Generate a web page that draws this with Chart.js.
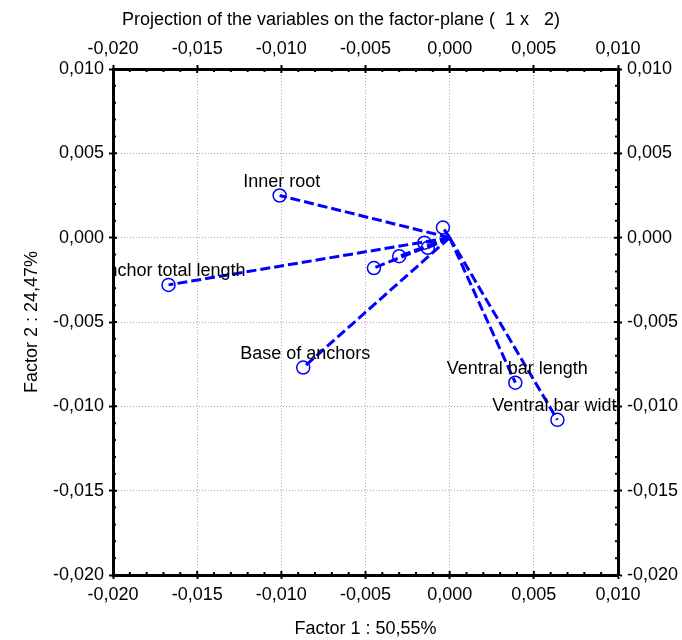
<!DOCTYPE html>
<html>
<head>
<meta charset="utf-8">
<title>Projection of the variables on the factor-plane</title>
<script src="https://cdn.jsdelivr.net/npm/chart.js@4.4.0/dist/chart.umd.min.js"></script>
<style>
  body { margin: 0; background: #fff; }
  canvas { display: block; }
</style>
</head>
<body>
<canvas id="grafica" width="682" height="640"></canvas>
<script>
// variables and their coordinates on factor 1 / factor 2
const variables = ['Inner root', 'Anchor total length', 'Base of anchors', 'Ventral bar length', 'Ventral bar width', '', '', '', '', ''];
const factor1 = [-0.0101, -0.0167, -0.0087, 0.0039, 0.0064, -0.0004, -0.0045, -0.0030, -0.0015, -0.0013];
const factor2 = [0.0025, -0.0028, -0.0077, -0.0086, -0.0108, 0.0006, -0.0018, -0.0011, -0.0003, -0.0006];

const axisMin = -0.020;
const axisMax = 0.010;
const axisStep = 0.005;

const fuente = 'Liberation Sans, Arial, sans-serif';
const azul = '#0000ff';

function fmt(v) {
    if (Math.abs(v) < 1e-9) v = 0;
    return v.toFixed(3).replace('.', ',');
}

const puntos = factor1.map((x, i) => ({ x: x, y: factor2[i] }));

// one dashed vector from the origin to every variable
const vectores = puntos.map((p) => ({
    type: 'line',
    data: [{ x: 0, y: 0 }, p],
    showLine: true,
    borderColor: azul,
    borderWidth: 3,
    borderDash: [10, 4],
    pointRadius: 0,
    fill: false
}));

const circulos = {
    type: 'scatter',
    data: puntos,
    pointStyle: 'circle',
    pointRadius: 6.5,
    pointBorderWidth: 1.5,
    pointBorderColor: azul,
    pointBackgroundColor: 'rgba(0,0,0,0)'
};

// small inward tick marks every 0.001
const minorTicks = {
    id: 'minorTicks',
    afterDraw(chart) {
        const ctx = chart.ctx;
        const a = chart.chartArea;
        const sx = chart.scales.x;
        const sy = chart.scales.y;
        ctx.save();
        ctx.strokeStyle = '#000';
        ctx.lineWidth = 2;
        ctx.beginPath();
        for (let i = -20; i <= 10; i++) {
            const v = i / 1000;
            const len = (i % 5 === 0) ? 4 : 3;
            const px = sx.getPixelForValue(v);
            const py = sy.getPixelForValue(v);
            ctx.moveTo(px, a.bottom); ctx.lineTo(px, a.bottom - len);
            ctx.moveTo(px, a.top); ctx.lineTo(px, a.top + len);
            ctx.moveTo(a.left, py); ctx.lineTo(a.left + len, py);
            ctx.moveTo(a.right, py); ctx.lineTo(a.right - len, py);
        }
        ctx.stroke();
        ctx.restore();
    }
};

// variable names above their circles
const etiquetas = {
    id: 'etiquetas',
    afterDatasetsDraw(chart) {
        const ctx = chart.ctx;
        const a = chart.chartArea;
        const sx = chart.scales.x;
        const sy = chart.scales.y;
        ctx.save();
        ctx.beginPath();
        ctx.rect(a.left, a.top, a.right - a.left, a.bottom - a.top);
        ctx.clip();
        ctx.font = '18px ' + fuente;
        ctx.fillStyle = '#000';
        ctx.textAlign = 'center';
        ctx.textBaseline = 'alphabetic';
        variables.forEach((nombre, i) => {
            if (!nombre) return;
            const px = sx.getPixelForValue(factor1[i]);
            const py = sy.getPixelForValue(factor2[i]);
            ctx.fillText(nombre, px + 2, py - 9);
        });
        ctx.restore();
    }
};

const ejeComun = {
    type: 'linear',
    min: axisMin,
    max: axisMax,
    ticks: {
        stepSize: axisStep,
        color: '#000',
        font: { family: fuente, size: 18 },
        padding: 5,
        callback: (v) => fmt(v)
    },
    border: { display: true, color: '#000', width: 3, dash: [1, 2] },
    grid: { color: '#a8a8a8', lineWidth: 1, tickLength: 4, tickColor: '#000', tickWidth: 2 }
};

function eje(extra) {
    const e = JSON.parse(JSON.stringify(ejeComun));
    e.ticks.callback = (v) => fmt(v);
    return Object.assign(e, extra);
}

const ctx = document.getElementById('grafica').getContext('2d');
new Chart(ctx, {
    type: 'scatter',
    data: { datasets: vectores.concat([circulos]) },
    options: {
        responsive: false,
        animation: false,
        layout: { padding: 0 },
        plugins: {
            legend: { display: false },
            tooltip: { enabled: false },
            title: {
                display: true,
                text: 'Projection of the variables on the factor-plane (  1 x   2)',
                color: '#000',
                font: { family: fuente, size: 18, weight: 'normal', lineHeight: 1.2 },
                padding: { top: 9, bottom: 4 }
            }
        },
        scales: {
            x: eje({
                position: 'bottom',
                title: { display: true, text: 'Factor 1 : 50,55%', color: '#000', font: { family: fuente, size: 18, lineHeight: 1.2 }, padding: { top: 0, bottom: 0 } },
                afterFit: (s) => { s.height = 65; }
            }),
            x2: eje({
                position: 'top',
                grid: { drawOnChartArea: false, tickLength: 4, tickColor: '#000', tickWidth: 2 },
                afterFit: (s) => { s.height = 69 - 34.6; }
            }),
            y: eje({
                position: 'left',
                title: { display: true, text: 'Factor 2 : 24,47%', color: '#000', font: { family: fuente, size: 18, lineHeight: 1.2 }, padding: { top: 21, bottom: 0 } },
                afterFit: (s) => { s.width = 113; }
            }),
            y2: eje({
                position: 'right',
                grid: { drawOnChartArea: false, tickLength: 4, tickColor: '#000', tickWidth: 2 },
                afterFit: (s) => { s.width = 64; }
            })
        }
    },
    plugins: [minorTicks, etiquetas]
});
</script>
</body>
</html>
